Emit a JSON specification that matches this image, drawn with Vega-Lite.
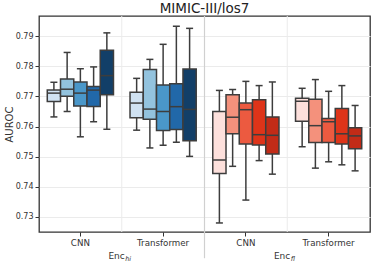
{
  "$schema": "https://vega.github.io/schema/vega-lite/v6.json",
  "width": 331,
  "height": 216,
  "autosize": {"type": "none"},
  "padding": {"left": 39, "top": 16, "right": 4, "bottom": 31},
  "title": {"text": "MIMIC-III/los7", "fontSize": 13.5, "font": "DejaVu Sans", "fontWeight": "normal", "color": "#222", "offset": 0, "baseline": "alphabetic", "dy": 11},
  "config": {
    "view": {"stroke": "#333", "strokeWidth": 1.3},
    "font": "DejaVu Sans",
    "axis": {"labelFont": "DejaVu Sans", "titleFont": "DejaVu Sans"},
    "axisY": {"labelOverlap": false, "grid": true, "gridColor": "#ebebeb", "gridWidth": 1, "labelFontSize": 8, "labelColor": "#333", "tickColor": "#333", "tickSize": 4, "domain": false, "titleFontSize": 10, "titleFontWeight": "normal", "titleColor": "#333", "labelPadding": 2, "titlePadding": 1}
  },
  "datasets": {
    "boxes": [
      {"group": "hi|CNN", "v": "1", "s": "hi1", "whi": 0.7747, "q3": 0.7721, "med": 0.7711, "q1": 0.7683, "wlo": 0.7632},
      {"group": "hi|CNN", "v": "2", "s": "hi2", "whi": 0.7846, "q3": 0.7758, "med": 0.7724, "q1": 0.7701, "wlo": 0.7650},
      {"group": "hi|CNN", "v": "3", "s": "hi3", "whi": 0.7792, "q3": 0.7748, "med": 0.7711, "q1": 0.7668, "wlo": 0.7566},
      {"group": "hi|CNN", "v": "4", "s": "hi4", "whi": 0.7798, "q3": 0.7733, "med": 0.7721, "q1": 0.7667, "wlo": 0.7616},
      {"group": "hi|CNN", "v": "5", "s": "hi5", "whi": 0.7911, "q3": 0.7853, "med": 0.7769, "q1": 0.7706, "wlo": 0.7591},
      {"group": "hi|Transformer", "v": "1", "s": "hi1", "whi": 0.7760, "q3": 0.7714, "med": 0.7678, "q1": 0.7629, "wlo": 0.7588},
      {"group": "hi|Transformer", "v": "2", "s": "hi2", "whi": 0.7823, "q3": 0.7789, "med": 0.7658, "q1": 0.7624, "wlo": 0.7529},
      {"group": "hi|Transformer", "v": "3", "s": "hi3", "whi": 0.7873, "q3": 0.7738, "med": 0.7650, "q1": 0.7587, "wlo": 0.7538},
      {"group": "hi|Transformer", "v": "4", "s": "hi4", "whi": 0.7933, "q3": 0.7742, "med": 0.7666, "q1": 0.7590, "wlo": 0.7548},
      {"group": "hi|Transformer", "v": "5", "s": "hi5", "whi": 0.7926, "q3": 0.7791, "med": 0.7657, "q1": 0.7553, "wlo": 0.7501},
      {"group": "fl|CNN", "v": "1", "s": "fl1", "whi": 0.7720, "q3": 0.7650, "med": 0.7489, "q1": 0.7444, "wlo": 0.7280},
      {"group": "fl|CNN", "v": "2", "s": "fl2", "whi": 0.7723, "q3": 0.7706, "med": 0.7631, "q1": 0.7576, "wlo": 0.7468},
      {"group": "fl|CNN", "v": "3", "s": "fl3", "whi": 0.7750, "q3": 0.7678, "med": 0.7656, "q1": 0.7542, "wlo": 0.7356},
      {"group": "fl|CNN", "v": "4", "s": "fl4", "whi": 0.7736, "q3": 0.7689, "med": 0.7573, "q1": 0.7539, "wlo": 0.7487},
      {"group": "fl|CNN", "v": "5", "s": "fl5", "whi": 0.7748, "q3": 0.7632, "med": 0.7571, "q1": 0.7509, "wlo": 0.7442},
      {"group": "fl|Transformer", "v": "1", "s": "fl1", "whi": 0.7727, "q3": 0.7694, "med": 0.7684, "q1": 0.7618, "wlo": 0.7533},
      {"group": "fl|Transformer", "v": "2", "s": "fl2", "whi": 0.7756, "q3": 0.7691, "med": 0.7603, "q1": 0.7547, "wlo": 0.7462},
      {"group": "fl|Transformer", "v": "3", "s": "fl3", "whi": 0.7717, "q3": 0.7627, "med": 0.7616, "q1": 0.7547, "wlo": 0.7483},
      {"group": "fl|Transformer", "v": "4", "s": "fl4", "whi": 0.7736, "q3": 0.7660, "med": 0.7576, "q1": 0.7542, "wlo": 0.7473},
      {"group": "fl|Transformer", "v": "5", "s": "fl5", "whi": 0.7670, "q3": 0.7596, "med": 0.7569, "q1": 0.7526, "wlo": 0.7453}
    ],
    "grid": [
      {"group": "hi|Transformer"},
      {"group": "fl|Transformer"}
    ],
    "sep": [
      {"group": "fl|CNN"}
    ],
    "titles": [
      {"group": "hi|Transformer", "t": "Enc", "sub": "hi"},
      {"group": "fl|Transformer", "t": "Enc", "sub": "fl"}
    ]
  },
  "layer": [
    {
      "data": {"name": "boxes"},
      "mark": {"type": "rule", "color": "#3d3d3d", "strokeWidth": 1.5},
      "encoding": {
        "x": {
          "field": "group", "type": "nominal",
          "scale": {"domain": ["hi|CNN", "hi|Transformer", "fl|CNN", "fl|Transformer"], "paddingInner": 0, "paddingOuter": 0},
          "axis": {"title": null, "labelExpr": "split(datum.value, '|')[1]", "labelAngle": 0, "labelFontSize": 8.7, "labelColor": "#333", "tickColor": "#333", "tickSize": 4, "tickWidth": 1, "domain": false, "grid": false, "labelPadding": 2}
        },
        "xOffset": {
          "field": "v", "type": "nominal",
          "scale": {"domain": ["1", "2", "3", "4", "5"], "paddingInner": 0, "paddingOuter": 0.625}
        },
        "y": {
          "field": "wlo", "type": "quantitative",
          "scale": {"domain": [0.725, 0.7967], "nice": false, "zero": false},
          "axis": {"title": "AUROC", "values": [0.73, 0.74, 0.75, 0.76, 0.77, 0.78, 0.79], "format": ".2f"}
        },
        "y2": {"field": "whi"}
      }
    },
    {
      "data": {"name": "grid"},
      "mark": {"type": "rule", "color": "#ebebeb", "strokeWidth": 1},
      "encoding": {
        "x": {"field": "group", "type": "nominal", "bandPosition": 0}
      }
    },
    {
      "data": {"name": "sep"},
      "mark": {"type": "rule", "color": "#d0d0d0", "strokeWidth": 1.2},
      "encoding": {
        "x": {"field": "group", "type": "nominal", "bandPosition": 0},
        "y": {"datum": 0.7967, "type": "quantitative", "axis": {"title": "AUROC", "values": [0.73, 0.74, 0.75, 0.76, 0.77, 0.78, 0.79], "format": ".2f"}},
        "y2": {"datum": 0.7163}
      }
    },
    {
      "data": {"name": "boxes"},
      "mark": {"type": "bar", "stroke": "#3d3d3d", "strokeWidth": 1.5, "opacity": 1},
      "encoding": {
        "x": {"field": "group", "type": "nominal"},
        "xOffset": {"field": "v", "type": "nominal"},
        "y": {"field": "q1", "type": "quantitative", "axis": {"title": "AUROC", "values": [0.73, 0.74, 0.75, 0.76, 0.77, 0.78, 0.79], "format": ".2f"}},
        "y2": {"field": "q3"},
        "color": {
          "field": "s", "type": "nominal", "legend": null,
          "scale": {
            "domain": ["hi1", "hi2", "hi3", "hi4", "hi5", "fl1", "fl2", "fl3", "fl4", "fl5"],
            "range": ["#d0e2f2", "#93c3de", "#4a97c9", "#2168a9", "#123f68", "#fde0dc", "#f4917c", "#ec5a40", "#de3419", "#c22b17"]
          }
        }
      }
    },
    {
      "data": {"name": "boxes"},
      "mark": {"type": "tick", "color": "#3d3d3d", "thickness": 1.5, "size": 13, "opacity": 1},
      "encoding": {
        "x": {"field": "group", "type": "nominal"},
        "xOffset": {"field": "v", "type": "nominal"},
        "y": {"field": "med", "type": "quantitative", "axis": {"title": "AUROC", "values": [0.73, 0.74, 0.75, 0.76, 0.77, 0.78, 0.79], "format": ".2f"}}
      }
    },
    {
      "data": {"name": "boxes"},
      "mark": {"type": "tick", "color": "#3d3d3d", "thickness": 1.5, "size": 7, "opacity": 1},
      "encoding": {
        "x": {"field": "group", "type": "nominal"},
        "xOffset": {"field": "v", "type": "nominal"},
        "y": {"field": "wlo", "type": "quantitative", "axis": {"title": "AUROC", "values": [0.73, 0.74, 0.75, 0.76, 0.77, 0.78, 0.79], "format": ".2f"}}
      }
    },
    {
      "data": {"name": "boxes"},
      "mark": {"type": "tick", "color": "#3d3d3d", "thickness": 1.5, "size": 7, "opacity": 1},
      "encoding": {
        "x": {"field": "group", "type": "nominal"},
        "xOffset": {"field": "v", "type": "nominal"},
        "y": {"field": "whi", "type": "quantitative", "axis": {"title": "AUROC", "values": [0.73, 0.74, 0.75, 0.76, 0.77, 0.78, 0.79], "format": ".2f"}}
      }
    },
    {
      "data": {"name": "titles"},
      "mark": {"type": "text", "align": "right", "baseline": "middle", "fontSize": 9, "color": "#333", "dx": 3},
      "encoding": {
        "x": {"field": "group", "type": "nominal", "bandPosition": 0},
        "y": {"datum": 0.7170, "type": "quantitative", "axis": {"title": "AUROC", "values": [0.73, 0.74, 0.75, 0.76, 0.77, 0.78, 0.79], "format": ".2f"}},
        "text": {"field": "t"}
      }
    },
    {
      "data": {"name": "titles"},
      "mark": {"type": "text", "align": "left", "baseline": "middle", "fontSize": 6.5, "fontStyle": "italic", "color": "#333", "dx": 3.5, "dy": 2.5},
      "encoding": {
        "x": {"field": "group", "type": "nominal", "bandPosition": 0},
        "y": {"datum": 0.7170, "type": "quantitative", "axis": {"title": "AUROC", "values": [0.73, 0.74, 0.75, 0.76, 0.77, 0.78, 0.79], "format": ".2f"}},
        "text": {"field": "sub"}
      }
    }
  ]
}
